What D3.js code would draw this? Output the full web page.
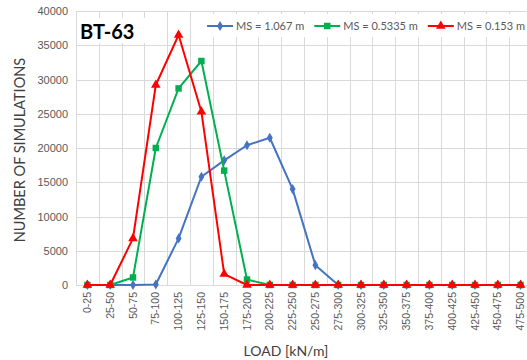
<!DOCTYPE html>
<html>
<head>
<meta charset="utf-8">
<script src="https://cdn.jsdelivr.net/npm/d3@7"></script>
<style>
  html, body { margin: 0; padding: 0; background: #fff; }
  svg { display: block; font-family: Lato, "Open Sans", sans-serif; }
</style>
</head>
<body>
<svg id="chart" width="527" height="360"></svg>
<script>
// Load bins [kN/m]
const categories = ["0-25","25-50","50-75","75-100","100-125","125-150","150-175","175-200",
  "200-225","225-250","250-275","275-300","300-325","325-350","350-375","375-400",
  "400-425","425-450","450-475","475-500"];

// Number of simulations per load bin, one array per member spacing
const ms1067 = [0, 0, 0, 80, 6800, 15800, 18200, 20400, 21500, 14000, 2900, 0, 0, 0, 0, 0, 0, 0, 0, 0];
const ms05335 = [0, 0, 1100, 20000, 28700, 32700, 16700, 800, 0, 0, 0, 0, 0, 0, 0, 0, 0, 0, 0, 0];
const ms0153 = [0, 0, 6800, 29200, 36500, 25300, 1600, 0, 0, 0, 0, 0, 0, 0, 0, 0, 0, 0, 0, 0];

const yTicks = [0, 5000, 10000, 15000, 20000, 25000, 30000, 35000, 40000];
const seriesNames = ["MS = 1.067 m", "MS = 0.5335 m", "MS = 0.153 m"];

const series = [
  { name: seriesNames[0], values: ms1067, color: "#4472C4", symbol: d3.symbolDiamond, size: 30 },
  { name: seriesNames[1], values: ms05335, color: "#00B050", symbol: d3.symbolSquare, size: 42 },
  { name: seriesNames[2], values: ms0153, color: "#FF0000", symbol: d3.symbolTriangle, size: 40 }
];

const svg = d3.select("#chart");
const plotL = 76, plotR = 532, plotT = 11, plotB = 285;

const x = d3.scaleBand().domain(categories).range([plotL, plotR]).padding(0);
const y = d3.scaleLinear().domain([0, 40000]).range([plotB, plotT]);
const cx = c => x(c) + x.bandwidth() / 2;

// Gridlines
const grid = svg.append("g").attr("stroke", "#d9d9d9").attr("stroke-width", 1);
grid.selectAll("line.h").data(yTicks).join("line")
  .attr("x1", plotL).attr("x2", plotR)
  .attr("y1", d => Math.round(y(d)) + 0.5).attr("y2", d => Math.round(y(d)) + 0.5);
grid.selectAll("line.v").data(categories.concat(["end"])).join("line")
  .attr("x1", (d, i) => Math.round(plotL + i * x.bandwidth()) + 0.5)
  .attr("x2", (d, i) => Math.round(plotL + i * x.bandwidth()) + 0.5)
  .attr("y1", plotT).attr("y2", plotB);

// Y axis
const yAxis = svg.append("g")
  .attr("transform", `translate(${plotL - 6},0)`)
  .call(d3.axisLeft(y).tickValues(yTicks).tickSize(0).tickPadding(2).tickFormat(d3.format("d")));
yAxis.select(".domain").remove();
yAxis.selectAll("text").attr("fill", "#595959").attr("font-size", 11);

// X axis
const xAxis = svg.append("g")
  .attr("transform", `translate(0,${plotB})`)
  .call(d3.axisBottom(x).tickSize(0).tickPadding(0));
xAxis.select(".domain").remove();
xAxis.selectAll("text")
  .attr("fill", "#595959").attr("font-size", 10.5)
  .attr("transform", "rotate(-90)")
  .attr("text-anchor", "end")
  .attr("x", -7).attr("y", 0).attr("dy", "0.35em");

// Lines and markers
const line = d3.line().x((d, i) => cx(categories[i])).y(d => y(d));
series.forEach(s => {
  const g = svg.append("g");
  g.append("path").datum(s.values)
    .attr("fill", "none").attr("stroke", s.color).attr("stroke-width", 2)
    .attr("stroke-linejoin", "round").attr("d", line);
  g.selectAll("path.m").data(s.values).join("path")
    .attr("class", "m")
    .attr("transform", (d, i) => `translate(${cx(categories[i])},${y(d)})`)
    .attr("d", d3.symbol().type(s.symbol).size(s.size))
    .attr("fill", s.color);
});

// Title box
svg.append("rect").attr("x", plotL + 1).attr("y", 18).attr("width", 68).attr("height", 25).attr("fill", "#fff");
svg.append("text").attr("x", 80).attr("y", 39)
  .attr("font-size", 20).attr("font-weight", "bold").attr("fill", "#000")
  .text("BT-63");

// Legend: items laid out left to right, ending just inside the right edge
const legendBg = svg.append("rect").attr("y", 14).attr("height", 23).attr("fill", "#fff");
const legend = svg.append("g").attr("transform", "translate(0,26)");
let lx = 0;
series.forEach(s => {
  const g = legend.append("g").attr("transform", `translate(${lx},0)`);
  g.append("line").attr("x1", 0).attr("x2", 26).attr("stroke", s.color).attr("stroke-width", 2);
  g.append("path").attr("transform", "translate(13,0)")
    .attr("d", d3.symbol().type(s.symbol).size(s.size)).attr("fill", s.color);
  const t = g.append("text").attr("x", 29).attr("dy", "0.35em")
    .attr("font-size", 11).attr("fill", "#595959").text(s.name);
  lx += 29 + t.node().getComputedTextLength() + 10;
});
const legendW = lx - 10;
const legendStart = 525 - legendW;
legend.attr("transform", `translate(${legendStart},26)`);
legendBg.attr("x", legendStart - 9).attr("width", 540 - legendStart);

// Axis titles
svg.append("text")
  .attr("transform", "translate(25,150) rotate(-90)")
  .attr("text-anchor", "middle").attr("font-size", 14.5).attr("fill", "#404040")
  .text("NUMBER OF SIMULATIONS");
svg.append("text")
  .attr("x", 286).attr("y", 356)
  .attr("text-anchor", "middle").attr("font-size", 14).attr("fill", "#404040")
  .text("LOAD [kN/m]");
</script>
</body>
</html>
